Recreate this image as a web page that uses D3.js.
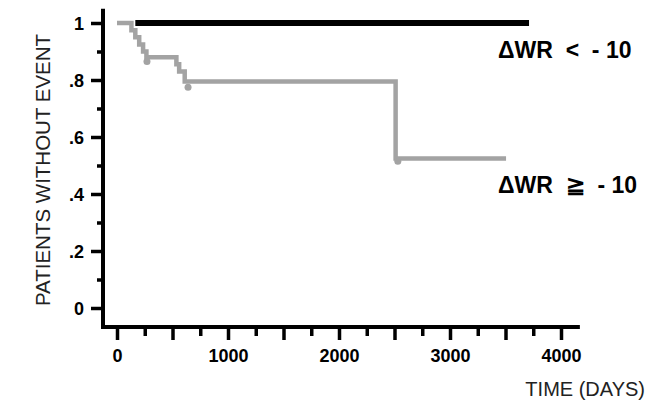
<!DOCTYPE html>
<html>
<head>
<meta charset="utf-8">
<script src="https://cdn.jsdelivr.net/npm/d3@7"></script>
<style>
  body { margin: 0; background: #fff; }
  text { font-family: "Liberation Sans", Arial, Helvetica, sans-serif; }
</style>
</head>
<body>
<div id="chart"></div>
<script>
// Kaplan-Meier style curves (time in days, survival fraction)
const blackTimes = [165, 3712];
const blackSurv = [1, 1];

const greyTimes = [0, 130, 165, 200, 235, 265, 535, 560, 610, 2510, 3505];
const greySurv = [1, 0.975, 0.95, 0.925, 0.90, 0.88, 0.855, 0.83, 0.795, 0.525, 0.525];

// censor blobs on the grey curve
const censorTimes = [270, 640, 2530];
const censorSurv = [0.865, 0.775, 0.515];

const xMajor = [0, 500, 1000, 1500, 2000, 2500, 3000, 3500, 4000];
const xMinor = [250, 750, 1250, 1750, 2250, 2750, 3250, 3750];
const xLabels = [0, 1000, 2000, 3000, 4000];
const yMajor = [0, 0.2, 0.4, 0.6, 0.8, 1];
const yMinor = [0.1, 0.3, 0.5, 0.7, 0.9];
const yLabels = ["0", ".2", ".4", ".6", ".8", "1"];

const labelLow = "\u0394WR  <  - 10";
const labelHigh = "\u0394WR  \u2267  - 10";

const width = 651, height = 404;

const svg = d3.select("#chart").append("svg")
    .attr("width", width)
    .attr("height", height);

const x = d3.scaleLinear().domain([0, 4000]).range([117, 561]);
const y = d3.scaleLinear().domain([0, 1]).range([308, 23]);

const axisX = 327;   // pixel row of the x axis line
const axisY = 103;   // pixel column of the y axis line

// y axis ticks
svg.append("g")
    .attr("transform", `translate(${axisY},0)`)
    .call(d3.axisLeft(y).tickValues(yMajor).tickSize(12).tickFormat((d, i) => yLabels[i]))
    .call(g => g.select(".domain").remove())
    .call(g => g.selectAll(".tick line").attr("stroke", "#000").attr("stroke-width", 3.5))
    .call(g => g.selectAll(".tick text")
        .attr("x", -19)
        .attr("dy", "0.36em")
        .attr("fill", "#000")
        .style("font-size", "18px")
        .style("font-weight", "bold"));

svg.append("g")
    .attr("transform", `translate(${axisY},0)`)
    .call(d3.axisLeft(y).tickValues(yMinor).tickSize(6).tickFormat(""))
    .call(g => g.select(".domain").remove())
    .call(g => g.selectAll(".tick line").attr("stroke", "#000").attr("stroke-width", 3.5));

// x axis ticks
svg.append("g")
    .attr("transform", `translate(0,${axisX})`)
    .call(d3.axisBottom(x).tickValues(xMajor).tickSize(13)
        .tickFormat(d => xLabels.includes(d) ? d : ""))
    .call(g => g.select(".domain").remove())
    .call(g => g.selectAll(".tick line").attr("stroke", "#000").attr("stroke-width", 3.5))
    .call(g => g.selectAll(".tick text")
        .attr("y", 22)
        .attr("dy", "0.71em")
        .attr("fill", "#000")
        .style("font-size", "18px")
        .style("font-weight", "bold"));

svg.append("g")
    .attr("transform", `translate(0,${axisX})`)
    .call(d3.axisBottom(x).tickValues(xMinor).tickSize(9).tickFormat(""))
    .call(g => g.select(".domain").remove())
    .call(g => g.selectAll(".tick line").attr("stroke", "#000").attr("stroke-width", 3.5));

// axis lines
svg.append("line")
    .attr("x1", axisY).attr("x2", axisY)
    .attr("y1", y(1.05)).attr("y2", axisX + 2)
    .attr("stroke", "#000").attr("stroke-width", 4);

svg.append("line")
    .attr("x1", axisY - 2).attr("x2", x(4170))
    .attr("y1", axisX).attr("y2", axisX)
    .attr("stroke", "#000").attr("stroke-width", 4);

// curves
const line = d3.line()
    .x(d => x(d[0]))
    .y(d => y(d[1]))
    .curve(d3.curveStepAfter);

svg.append("path")
    .datum(d3.zip(greyTimes, greySurv))
    .attr("d", line)
    .attr("fill", "none")
    .attr("stroke", "#a3a3a3")
    .attr("stroke-width", 4.5);

svg.selectAll(".censor")
    .data(d3.zip(censorTimes, censorSurv))
    .enter()
    .append("circle")
    .attr("class", "censor")
    .attr("cx", d => x(d[0]))
    .attr("cy", d => y(d[1]))
    .attr("r", 3.5)
    .attr("fill", "#a3a3a3");

svg.append("path")
    .datum(d3.zip(blackTimes, blackSurv))
    .attr("d", line)
    .attr("fill", "none")
    .attr("stroke", "#000")
    .attr("stroke-width", 6);

// group labels
svg.append("text")
    .attr("x", 498).attr("y", 58)
    .style("white-space", "pre")
    .style("font-size", "23px")
    .style("font-weight", "bold")
    .attr("fill", "#000")
    .text(labelLow);

svg.append("text")
    .attr("x", 498).attr("y", 193)
    .style("white-space", "pre")
    .style("font-size", "23px")
    .style("font-weight", "bold")
    .attr("fill", "#000")
    .text(labelHigh);

// axis titles
svg.append("text")
    .attr("x", 645).attr("y", 396)
    .attr("text-anchor", "end")
    .style("font-size", "20px")
    .attr("fill", "#222")
    .text("TIME (DAYS)");

svg.append("text")
    .attr("transform", "translate(50,170) rotate(-90)")
    .attr("text-anchor", "middle")
    .style("font-size", "20.5px")
    .attr("fill", "#222")
    .text("PATIENTS WITHOUT EVENT");
</script>
</body>
</html>
